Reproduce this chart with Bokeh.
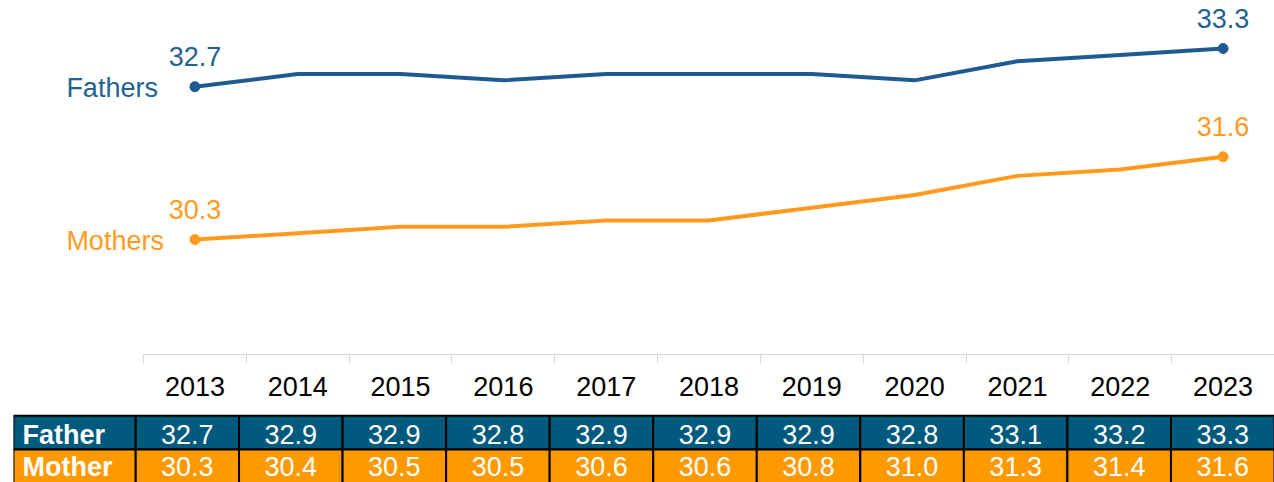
from bokeh.plotting import figure
from bokeh.layouts import column
from bokeh.models import FixedTicker, ColumnDataSource
from bokeh.core.properties import value
from bokeh.embed import file_html
from bokeh.resources import INLINE

years = ["2013", "2014", "2015", "2016", "2017", "2018", "2019", "2020", "2021", "2022", "2023"]
fathers = [32.7, 32.9, 32.9, 32.8, 32.9, 32.9, 32.9, 32.8, 33.1, 33.2, 33.3]
mothers = [30.3, 30.4, 30.5, 30.5, 30.6, 30.6, 30.8, 31.0, 31.3, 31.4, 31.6]
series_names = ["Fathers", "Mothers"]
row_names = ["Father", "Mother"]

FONT = "Liberation Sans"
FS = "27px"
BLUE_LINE = "#1F5A92"
BLUE_TEXT = "#1F6390"
ORANGE = "#FF9A1C"
TBL_BLUE = "#005A7E"
TBL_ORANGE = "#FF9900"

idx = list(range(len(years)))
cat_px = 1131 / len(years)
left_ext = 143 / cat_px

# ---------------- chart ----------------
p = figure(width=1274, height=410, output_backend="svg", toolbar_location=None,
           x_range=(-0.5 - left_ext, len(years) - 0.5), y_range=(28.495, 34.054),
           min_border_left=0, min_border_right=0, min_border_top=0, min_border_bottom=56)
p.frame_align = False
p.outline_line_color = None
p.grid.visible = False
p.yaxis.visible = False
p.background_fill_color = "white"
p.border_fill_color = "white"

ticker = FixedTicker(ticks=idx, minor_ticks=[i - 0.5 for i in range(len(years) + 1)])
p.xaxis.ticker = ticker
p.xaxis.bounds = (-0.5, len(years) - 0.5)
p.xaxis.major_label_overrides = {i: y for i, y in enumerate(years)}
p.xaxis.major_tick_line_color = None
p.xaxis.major_tick_out = 0
p.xaxis.major_tick_in = 0
p.xaxis.minor_tick_line_color = "#D9D9D9"
p.xaxis.minor_tick_out = 9
p.xaxis.minor_tick_in = 0
p.xaxis.axis_line_color = "#D9D9D9"
p.xaxis.axis_line_width = 1
p.xaxis.major_label_text_font = FONT
p.xaxis.major_label_text_font_size = FS
p.xaxis.major_label_text_color = "black"
p.xaxis.major_label_standoff = 13

for vals, col, tcol, name, name_off in [(fathers, BLUE_LINE, BLUE_TEXT, series_names[0], -37),
                                        (mothers, ORANGE, ORANGE, series_names[1], -31)]:
    p.line(idx, vals, line_color=col, line_width=4)
    p.scatter([idx[0], idx[-1]], [vals[0], vals[-1]], size=10, fill_color=col, line_color=col)
    p.text([idx[0], idx[-1]], [vals[0], vals[-1]], text=[f"{vals[0]:.1f}", f"{vals[-1]:.1f}"],
           text_font=value(FONT), text_font_size=FS, text_color=tcol,
           text_align="center", text_baseline="alphabetic", y_offset=-30)
    p.text([idx[0]], [vals[0]], text=[name], text_font=value(FONT), text_font_size=FS,
           text_color=tcol, text_align="right", text_baseline="middle",
           x_offset=name_off, y_offset=1)

# ---------------- table ----------------
label_w = 122 / 103.55
t = figure(width=1274, height=72, output_backend="svg", toolbar_location=None,
           x_range=(-label_w, len(years)), y_range=(-0.47, 1.652),
           min_border_left=13, min_border_right=0, min_border_top=0, min_border_bottom=0)
t.frame_align = False
t.outline_line_color = None
t.grid.visible = False
t.axis.visible = False
t.border_fill_color = "white"

rows = [(fathers, TBL_BLUE, 1, row_names[0], 2), (mothers, TBL_ORANGE, 0, row_names[1], 0)]
for vals, fill, yrow, rname, yoff in rows:
    xs = [i + 0.5 for i in idx]
    src = ColumnDataSource(dict(x=xs, y=[yrow] * len(xs), txt=[f"{v:.1f}" for v in vals]))
    t.rect("x", "y", width=1, height=1, source=src, fill_color=fill, line_color="black", line_width=2)
    t.text("x", "y", text="txt", source=src, text_font=value(FONT), text_font_size=FS,
           text_color="white", text_align="center", text_baseline="middle", y_offset=yoff)
    t.rect([-label_w / 2], [yrow], width=label_w, height=1, fill_color=fill, line_color="black", line_width=2)
    t.text([-label_w], [yrow], text=[rname], text_font=value(FONT), text_font_size=FS,
           text_font_style="bold", text_color="white", text_align="left", text_baseline="middle",
           x_offset=9, y_offset=yoff)

layout = column(p, t, spacing=0)
open("out.html", "w").write(file_html(layout, INLINE))
